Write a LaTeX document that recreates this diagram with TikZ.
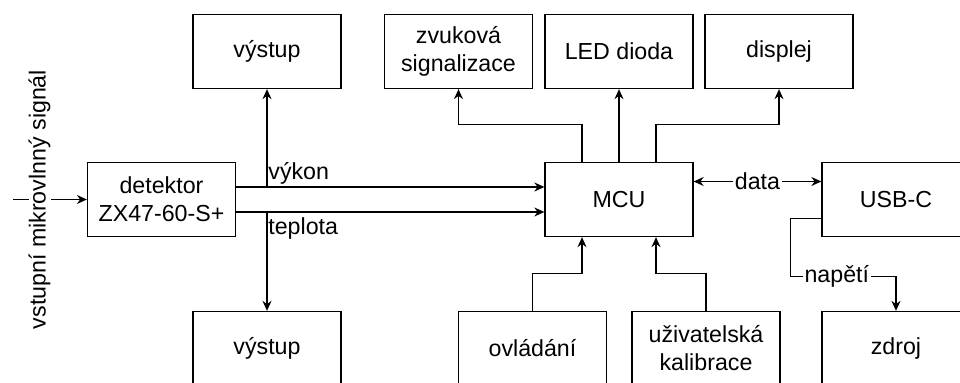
\documentclass[tikz,border=0pt]{standalone}
\usepackage{fontspec}
\setmainfont{Liberation Sans}
\usepackage{tikz}
\usetikzlibrary{positioning,arrows.meta,calc}
\tikzset{
  blok/.style={rectangle,draw,line width=0.65pt,minimum width=74pt,
               minimum height=37pt,inner sep=0pt,align=center,
               font=\fontsize{11.6pt}{14pt}\selectfont},
  spoj/.style={-{Stealth[length=5pt,width=4.5pt]},line width=0.65pt},
  obspoj/.style={{Stealth[length=5pt,width=4.5pt]}-{Stealth[length=5pt,width=4.5pt]},line width=0.65pt},
  popis/.style={fill=white,inner sep=1pt,font=\fontsize{11.6pt}{14pt}\selectfont},
}

\begin{document}
\begin{tikzpicture}[x=0.5pt,y=-0.5pt]
\useasboundingbox (0,0) rectangle (960,383);
\node[blok] (vystA) at (267,51.5) {výstup};
\node[blok] (vystB) at (267,348.5) {výstup};
\node[blok] (det) at (161.5,199.5) {detektor\\ZX47-60-S+};
\node[blok] (zvuk) at (458.5,51.5) {zvuková\\signalizace};
\node[blok] (led) at (619,51.5) {LED dioda};
\node[blok] (disp) at (779,51.5) {displej};
\node[blok] (mcu) at (619,199.5) {MCU};
\node[blok] (usb) at (896,199.5) {USB-C};
\node[blok] (zdroj) at (896,348.5) {zdroj};
\node[blok] (ovl) at (532.5,348.5) {ovládání};
\node[blok] (kal) at (706,348.5) {uživatelská\\kalibrace};
\coordinate (sig) at (13,199.5);

\draw[spoj] (sig) -- (det.west)
  node[popis,pos=0.36,rotate=90,inner sep=0pt] {vstupní mikrovlnný signál};

\coordinate (dvyk) at ([yshift=6.25pt]det.east);
\coordinate (dtep) at ([yshift=-6.25pt]det.east);
\draw[spoj] (dvyk) -- (mcu.west |- dvyk);
\draw[spoj] (dtep) -- (mcu.west |- dtep);
\coordinate (vyk) at (vystA.south |- dvyk);
\coordinate (tep) at (vystB.north |- dtep);
\draw[spoj] (vyk) -- (vystA.south);
\draw[spoj] (tep) -- (vystB.north);
\node[popis,fill=none,anchor=south west,inner xsep=0.5pt,inner ysep=1pt] (lvyk) at (vyk) {výkon};
\node[popis,fill=none,anchor=north west,inner xsep=0.5pt,inner ysep=2.5pt] (ltep) at (tep) {teplota};

\draw[spoj] ([xshift=-18.5pt]mcu.north) -- ++(0,-37) -| (zvuk.south);
\draw[spoj] (mcu.north) -- (led.south);
\draw[spoj] ([xshift=18.5pt]mcu.north) -- ++(0,-37) -| (disp.south);

\draw[spoj] (ovl.north) -- ++(0,-37) -| ([xshift=-18.5pt]mcu.south);
\draw[spoj] (kal.north) -- ++(0,-37) -| ([xshift=18.5pt]mcu.south);

\draw[obspoj] ([yshift=9pt]mcu.east) -- ([yshift=9pt]usb.west)
  node[popis,midway] {data};
\draw[spoj] ([yshift=-9.5pt]usb.west) -- ++(-31,0) |- ($(zdroj.north)+(0,-34)$)
  node[popis,pos=0.72] {napětí} -- (zdroj.north);
\end{tikzpicture}
\end{document}
